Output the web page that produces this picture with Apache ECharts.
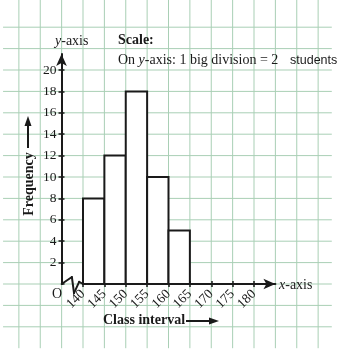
<!DOCTYPE html>
<html><head><meta charset="utf-8">
<script src="https://cdn.jsdelivr.net/npm/echarts@6/dist/echarts.min.js"></script>
<style>html,body{margin:0;padding:0;background:#fff}#c{width:348px;height:358px}</style>
</head><body><div id="c"></div>
<script>
// ---- data ----
const binStarts = [140, 145, 150, 155, 160];
const binEnds = [145, 150, 155, 160, 165];
const frequencies = [8, 12, 18, 10, 5];
const xTickValues = [140, 145, 150, 155, 160, 165, 170, 175, 180];
const yTickValues = [2, 4, 6, 8, 10, 12, 14, 16, 18, 20];
const paperXValues = [125, 130, 135, 140, 145, 150, 155, 160, 165, 170, 175, 180, 185, 190, 195];
const paperYValues = [-4, -2, 0, 2, 4, 6, 8, 10, 12, 14, 16, 18, 20, 22, 24];
const breakX = [135, 137.4, 137.9, 139.1, 140];
const breakY = [0, 0.65, -0.85, 0.2, 0];

const chart = echarts.init(document.getElementById('c'), null, {renderer: 'canvas'});
const SERIF = 'Liberation Serif, Times New Roman, serif';
const INK = '#1a1a1a';
const PAPER = '#a9cfb5';
const PAPER_Y_EXT = [-6, 26.6];
const PAPER_X_EXT = [121.3, 198.2];

const xMin = xTickValues[0], xMax = xTickValues[xTickValues.length - 1];
const yMax = yTickValues[yTickValues.length - 1];

const option = {
  backgroundColor: '#fff',
  animation: false,
  grid: [
    {left: 83, right: 94, top: 70, bottom: 74},
    {left: 83, right: 72.6, top: 54, bottom: 74}
  ],
  xAxis: [
    {gridIndex: 0, type: 'value', min: xMin, max: xMax, interval: 5, position: 'bottom',
     axisLine: {show: false, onZero: false},
     axisTick: {show: true, length: 3, lineStyle: {color: INK, width: 1.5}},
     axisLabel: {rotate: 45, margin: 8, fontFamily: SERIF, fontSize: 13.5, color: INK},
     splitLine: {show: false}},
    {gridIndex: 0, type: 'value', min: xMin, max: xMax, interval: 5, position: 'bottom',
     axisLine: {show: false, onZero: false},
     axisTick: {show: true, inside: true, length: 3, lineStyle: {color: INK, width: 1.5}},
     axisLabel: {show: false}, splitLine: {show: false}},
    {gridIndex: 1, type: 'value', min: 140, max: 185, position: 'bottom',
     axisLine: {show: true, onZero: false, symbol: ['none', 'arrow'], symbolSize: [8, 12], lineStyle: {color: INK, width: 2}},
     axisTick: {show: false}, axisLabel: {show: false}, splitLine: {show: false}}
  ],
  yAxis: [
    {gridIndex: 0, type: 'value', min: 0, max: yMax, interval: 2, offset: 21.5, position: 'left',
     axisLine: {show: false, onZero: false},
     axisTick: {show: true, length: 3, lineStyle: {color: INK, width: 1.5}},
     axisLabel: {showMinLabel: false, margin: 5, fontFamily: SERIF, fontSize: 13.5, color: INK},
     splitLine: {show: false}},
    {gridIndex: 0, type: 'value', min: 0, max: yMax, interval: 2, offset: 21.5, position: 'left',
     axisLine: {show: false, onZero: false},
     axisTick: {show: true, inside: true, length: 3, lineStyle: {color: INK, width: 1.5}},
     axisLabel: {show: false}, splitLine: {show: false}},
    {gridIndex: 1, type: 'value', min: 0, max: 1, offset: 21.5, position: 'left',
     axisLine: {show: true, onZero: false, symbol: ['none', 'arrow'], symbolSize: [8, 12], lineStyle: {color: INK, width: 2}},
     axisTick: {show: false}, axisLabel: {show: false}, splitLine: {show: false}}
  ],
  series: [
    {type: 'custom', xAxisIndex: 0, yAxisIndex: 0, z: -10, clip: false, silent: true,
     data: paperXValues.map(v => [v]),
     renderItem: (params, api) => {
       const a = api.coord([api.value(0), PAPER_Y_EXT[1]]);
       const b = api.coord([api.value(0), PAPER_Y_EXT[0]]);
       return {type: 'line', shape: {x1: a[0], y1: a[1], x2: b[0], y2: b[1]}, style: {stroke: PAPER, lineWidth: 1}};
     }},
    {type: 'custom', xAxisIndex: 0, yAxisIndex: 0, z: -10, clip: false, silent: true,
     data: paperYValues.map(v => [PAPER_X_EXT[0], v]),
     renderItem: (params, api) => {
       const a = api.coord([PAPER_X_EXT[0], api.value(1)]);
       const b = api.coord([PAPER_X_EXT[1], api.value(1)]);
       return {type: 'line', shape: {x1: a[0], y1: a[1], x2: b[0], y2: b[1]}, style: {stroke: PAPER, lineWidth: 1}};
     }},
    {type: 'custom', xAxisIndex: 0, yAxisIndex: 0, z: 5, clip: false,
     encode: {x: [0, 1], y: 2},
     data: binStarts.map((s, i) => [s, binEnds[i], frequencies[i]]),
     renderItem: (params, api) => {
       const p0 = api.coord([api.value(0), api.value(2)]);
       const p1 = api.coord([api.value(1), 0]);
       return {type: 'rect', shape: {x: p0[0], y: p0[1], width: p1[0] - p0[0], height: p1[1] - p0[1]},
               style: {fill: '#fff', stroke: INK, lineWidth: 2}};
     }},
    {type: 'custom', xAxisIndex: 0, yAxisIndex: 0, z: 6, clip: false, silent: true,
     data: breakX.slice(0, -1).map((x, i) => [x, breakY[i], breakX[i + 1], breakY[i + 1]]),
     renderItem: (params, api) => {
       const a = api.coord([api.value(0), api.value(1)]);
       const b = api.coord([api.value(2), api.value(3)]);
       return {type: 'line', shape: {x1: a[0], y1: a[1], x2: b[0], y2: b[1]}, style: {stroke: INK, lineWidth: 2, lineCap: 'round'}};
     }}
  ],
  graphic: [
    {type: 'text', left: 55, top: 34, style: {text: '{i|y}-axis', fontFamily: SERIF, fontSize: 14, fill: INK,
      rich: {i: {fontFamily: SERIF, fontStyle: 'italic', fontSize: 14, fill: INK}}}},
    {type: 'text', left: 118, top: 33, style: {text: 'Scale:', fontFamily: SERIF, fontSize: 14, fontWeight: 'bold', fill: INK}},
    {type: 'text', left: 118, top: 53, style: {text: 'On {i|y}-axis: 1 big division = 2', fontFamily: SERIF, fontSize: 14, fill: INK,
      rich: {i: {fontFamily: SERIF, fontStyle: 'italic', fontSize: 14, fill: INK}}}},
    {type: 'text', left: 290, top: 54, style: {text: 'students', fontFamily: 'Liberation Sans, Arial, sans-serif', fontSize: 12.5, fill: INK}},
    {type: 'text', x: 29, y: 184, rotation: Math.PI / 2, style: {text: 'Frequency', fontFamily: SERIF, fontSize: 14, fontWeight: 'bold', fill: INK, align: 'center', verticalAlign: 'middle'}},
    {type: 'line', shape: {x1: 28, y1: 148, x2: 28, y2: 124}, style: {stroke: INK, lineWidth: 2}},
    {type: 'polygon', shape: {points: [[28, 116], [24.5, 126], [31.5, 126]]}, style: {fill: INK}},
    {type: 'text', left: 103, top: 313, style: {text: 'Class interval', fontFamily: SERIF, fontSize: 14, fontWeight: 'bold', fill: INK}},
    {type: 'line', shape: {x1: 186, y1: 321, x2: 210, y2: 321}, style: {stroke: INK, lineWidth: 2}},
    {type: 'polygon', shape: {points: [[219, 321], [209, 317.5], [209, 324.5]]}, style: {fill: INK}},
    {type: 'text', left: 279, top: 278, style: {text: '{i|x}-axis', fontFamily: SERIF, fontSize: 14, fill: INK,
      rich: {i: {fontFamily: SERIF, fontStyle: 'italic', fontSize: 14, fill: INK}}}},
    {type: 'text', left: 52, top: 287, style: {text: 'O', fontFamily: SERIF, fontSize: 14, fill: INK}}
  ]
};
chart.setOption(option);
</script>
</body></html>
